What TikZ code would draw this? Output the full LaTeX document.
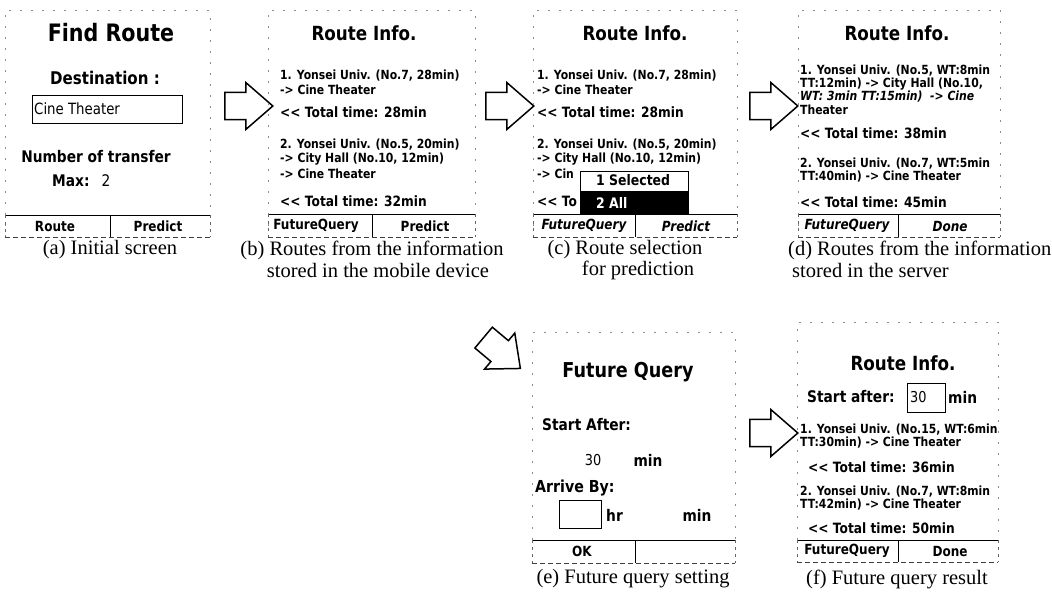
\documentclass[tikz,border=0pt]{standalone}
\usepackage{fontspec}
\setmainfont{Liberation Serif}
\newfontfamily\ui[FakeStretch=0.86]{DejaVu Sans}
\usetikzlibrary{shapes.arrows}
\newcommand{\fsz}[1]{\fontsize{#1}{#1}\selectfont}
\tikzset{
  scr/.style={draw=black!45, dash pattern=on 2pt off 9pt, line width=0.7pt},
  bartop/.style={draw=black, line width=0.9pt},
  barbot/.style={draw=black!75, dash pattern=on 5pt off 3pt, line width=0.8pt},
  barside/.style={draw=black!60, dash pattern=on 3pt off 4pt, line width=0.7pt},
  txt/.style={inner sep=0pt, anchor=west, font=\ui\bfseries\fsz{12.6}},
  tot/.style={inner sep=0pt, anchor=west, font=\ui\bfseries\fsz{14.2}},
  btn/.style={inner sep=0pt, font=\ui\bfseries\fsz{14}},
  btni/.style={inner sep=0pt, font=\ui\bfseries\itshape\fsz{14}},
  big/.style={inner sep=0pt, font=\ui\bfseries\fsz{16}},
  ttl/.style={inner sep=0pt, font=\ui\bfseries\fsz{19.5}},
  capt/.style={inner sep=0pt, font=\fsz{20.5}},
  fld/.style={draw=black, line width=1pt},
  blk/.style={single arrow, draw=black, line width=1.5pt, fill=white,
    inner sep=9pt, minimum width=47pt, minimum height=48pt,
    single arrow tip angle=82},
}
\begin{document}
\begin{tikzpicture}[x=1pt,y=-1pt]
\useasboundingbox (0,0) rectangle (1052,592);

% ---------- (a)
\draw[scr] (5,237) -- (5,10) -- (210,10) -- (210,215);
\node[inner sep=0pt, font=\ui\bfseries\fsz{24}] (aT) at (111,33) {Find Route};
\node[big, font=\ui\bfseries\fsz{17.5}] (aD) at (105,78) {Destination :};
\draw[fld] (32,95) rectangle (182,123);
\node[inner sep=0pt, anchor=west, font=\ui\fsz{15.5}] (aC) at (34,109) {Cine Theater};
\node[big] (aN) at (96,157) {Number of transfer};
\node[big, anchor=west] (aM) at (52,181) {Max:};
\node[inner sep=0pt, font=\ui\fsz{16}] (aM2) at (106,181) {2};
\draw[bartop] (5,215) -- (210,215);
\draw[barbot] (5,237) -- (210,237);
\draw[barside] (5,215) -- (5,237) (210,215) -- (210,237);
\draw[bartop] (110,215) -- (110,237);
\node[btn] (aB1) at (55,226) {Route};
\node[btn] (aB2) at (158,226) {Predict};
\node[capt] (aCap) at (110,250) {(a) Initial screen};

% ---------- arrows
\node[blk] (ar1) at (241,106) {};
\node[blk] (ar2) at (502,106) {};
\node[blk] (ar3) at (766,106) {};
\node[blk, rotate=-40] (ar4) at (496,348) {};
\node[blk] (ar5) at (766,433) {};

% ---------- (b)
\draw[scr] (268,237) -- (268,10) -- (475,10) -- (475,215);
\node[ttl] (bT) at (364,33) {Route Info.};
\node[txt] (b1) at (280,76) {1. Yonsei Univ. (No.7, 28min)};
\node[txt] (b2) at (280,90) {-> Cine Theater};
\node[tot] (b3) at (280,112) {<< Total time: 28min};
\node[txt] (b4) at (280,145) {2. Yonsei Univ. (No.5, 20min)};
\node[txt] (b5) at (280,159) {-> City Hall (No.10, 12min)};
\node[txt] (b6) at (280,174) {-> Cine Theater};
\node[tot] (b7) at (280,201) {<< Total time: 32min};
\draw[bartop] (268,214) -- (475,214);
\draw[barbot] (268,237) -- (475,237);
\draw[barside] (268,214) -- (268,237) (475,214) -- (475,237);
\draw[bartop] (372,214) -- (372,237);
\node[btn] (bB1) at (316,226) {FutureQuery};
\node[btn] (bB2) at (425,226) {Predict};
\node[capt] (bCap1) at (372,250) {(b) Routes from the information};
\node[capt] (bCap2) at (378,270) {stored in the mobile device};

% ---------- (c)
\draw[scr] (533,237) -- (533,10) -- (737,10) -- (737,215);
\node[ttl] (cT) at (635,33) {Route Info.};
\node[txt] (c1) at (537,76) {1. Yonsei Univ. (No.7, 28min)};
\node[txt] (c2) at (537,90) {-> Cine Theater};
\node[tot] (c3) at (537,112) {<< Total time: 28min};
\node[txt] (c4) at (537,145) {2. Yonsei Univ. (No.5, 20min)};
\node[txt] (c5) at (537,159) {-> City Hall (No.10, 12min)};
\node[txt] (c6) at (537,174) {-> Cin};
\node[tot] (c7) at (537,201) {<< To};
\draw[fill=white, draw=black, line width=0.8pt] (580,171) rectangle (688,191);
\draw[fill=black, draw=black] (580,191) rectangle (688,214);
\node[txt, font=\ui\bfseries\fsz{14.5}] (cP1) at (596,180) {1 Selected};
\node[txt, font=\ui\bfseries\fsz{14.5}, text=white] (cP2) at (596,203) {2 All};
\draw[bartop] (533,214) -- (737,214);
\draw[barbot] (533,237) -- (737,237);
\draw[barside] (533,214) -- (533,237) (737,214) -- (737,237);
\draw[bartop] (635,214) -- (635,237);
\node[btni] (cB1) at (584,226) {FutureQuery};
\node[btni] (cB2) at (686,226) {Predict};
\node[capt] (cCap1) at (625,250) {(c) Route selection};
\node[capt] (cCap2) at (638,270) {for prediction};

% ---------- (d)
\draw[scr] (798,237) -- (798,10) -- (1000,10) -- (1000,215);
\node[ttl] (dT) at (897,33) {Route Info.};
\node[txt] (d1) at (800,71) {1. Yonsei Univ. (No.5, WT:8min};
\node[txt] (d2) at (800,84) {TT:12min) -> City Hall (No.10,};
\node[txt, font=\ui\bfseries\itshape\fsz{12.6}] (d3) at (800,97) {WT: 3min TT:15min)\ \ -> Cine};
\node[txt] (d4) at (800,110) {Theater};
\node[tot] (d5) at (800,133) {<< Total time: 38min};
\node[txt] (d6) at (800,164) {2. Yonsei Univ. (No.7, WT:5min};
\node[txt] (d7) at (800,177) {TT:40min) -> Cine Theater};
\node[tot] (d8) at (800,202) {<< Total time: 45min};
\draw[bartop] (798,214) -- (1000,214);
\draw[barbot] (798,237) -- (1000,237);
\draw[barside] (798,214) -- (798,237) (1000,214) -- (1000,237);
\draw[bartop] (898,214) -- (898,237);
\node[btni] (dB1) at (847,226) {FutureQuery};
\node[btni] (dB2) at (950,226) {Done};
\node[capt, anchor=west] (dCap1) at (788,250) {(d) Routes from the information};
\node[capt, anchor=west] (dCap2) at (792,270) {stored in the server};

% ---------- (e)
\draw[scr] (532,540) -- (532,332) -- (735,332) -- (735,540);
\node[ttl, font=\ui\bfseries\fsz{20.5}] (eT) at (628,372) {Future Query};
\node[big, anchor=west] (eS) at (542,425) {Start After:};
\node[inner sep=0pt, font=\ui\fsz{15}] (e30) at (593,460) {30};
\node[big] (eM1) at (648,460) {min};
\node[big, anchor=west, font=\ui\bfseries\fsz{16.5}] (eA) at (535,488) {Arrive By:};
\draw[fld] (559,500) rectangle (601,528);
\node[big, anchor=west] (eH) at (606,515) {hr};
\node[big] (eM2) at (697,515) {min};
\draw[bartop] (532,540) -- (735,540);
\draw[barbot] (532,563) -- (735,563);
\draw[barside] (532,540) -- (532,563) (735,540) -- (735,563);
\draw[bartop] (635,540) -- (635,563);
\node[btn] (eB1) at (582,551) {OK};
\node[capt] (eCap) at (633,579) {(e) Future query setting};

% ---------- (f)
\draw[scr] (797,540) -- (797,322) -- (998,322) -- (998,540);
\node[ttl] (fT) at (903,363) {Route Info.};
\node[big, anchor=west] (fS) at (807,397) {Start after:};
\draw[fld] (907,383) rectangle (945,412);
\node[inner sep=0pt, anchor=west, font=\ui\fsz{15}] (f30) at (910,397) {30};
\node[big, anchor=west] (fM) at (948,397) {min};
\node[txt] (f1) at (800,430) {1. Yonsei Univ. (No.15, WT:6min};
\node[txt] (f2) at (800,443) {TT:30min) -> Cine Theater};
\node[tot] (f3) at (808,467) {<< Total time: 36min};
\node[txt] (f4) at (800,492) {2. Yonsei Univ. (No.7, WT:8min};
\node[txt] (f5) at (800,505) {TT:42min) -> Cine Theater};
\node[tot] (f6) at (808,528) {<< Total time: 50min};
\draw[bartop] (797,540) -- (998,540);
\draw[barbot] (797,562) -- (998,562);
\draw[barside] (797,540) -- (797,562) (998,540) -- (998,562);
\draw[bartop] (898,540) -- (898,562);
\node[btn] (fB1) at (847,551) {FutureQuery};
\node[btn] (fB2) at (950,551) {Done};
\node[capt] (fCap) at (897,579) {(f) Future query result};
\end{tikzpicture}
\end{document}
